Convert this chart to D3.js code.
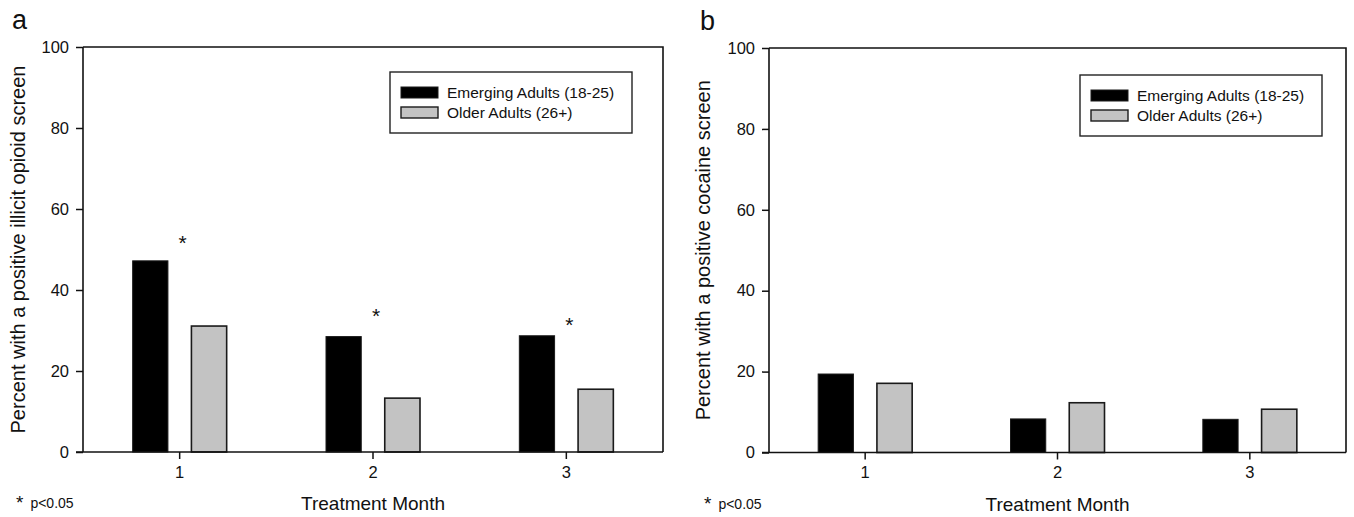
<!DOCTYPE html>
<html>
<head>
<meta charset="utf-8">
<script src="https://cdn.jsdelivr.net/npm/d3@7"></script>
<style>
  body { margin: 0; background: #fff; }
  svg text { font-family: "Liberation Sans", Arial, sans-serif; fill: #111; }
</style>
</head>
<body>
<svg id="chart" width="1354" height="517"></svg>
<script>
// DATA
var months = ['1', '2', '3'];
var groups = ['Emerging Adults (18-25)', 'Older Adults (26+)'];
var yTicks = [0, 20, 40, 60, 80, 100];

var opioidEmerging = [47.2, 28.5, 28.7];
var opioidOlder = [31.1, 13.3, 15.5];
var opioidStars = [52.3, 34.2, 32.2];   // height of the * marks

var cocaineEmerging = [19.4, 8.3, 8.2];
var cocaineOlder = [17.1, 12.3, 10.7];
var cocaineStars = [];

var fills = ['#000000', '#c3c3c3'];

var svg = d3.select('#chart');

function drawPanel(p) {
	var g = svg.append('g')
		.attr('transform', 'translate(' + p.left + ',' + p.top + ')');

	// SCALE
	var xScale = d3.scaleBand().domain(months).range([0, p.width]);
	var xGroup = d3.scaleBand().domain(groups).range([-47, 47]).paddingInner(0.4);
	var yScale = d3.scaleLinear().domain([0, 100]).range([p.height, 0]);

	// frame (top + right)
	g.append('path')
		.attr('d', 'M0,0H' + p.width + 'V' + p.height)
		.attr('fill', 'none')
		.attr('stroke', '#111')
		.attr('stroke-width', 1.6);

	// bars
	var rows = months.map(function(m, i) {
		return { month: m, values: [p.emerging[i], p.older[i]] };
	});
	var monthG = g.selectAll('.month')
		.data(rows)
		.enter().append('g')
		.attr('class', 'month')
		.attr('transform', function(d) { return 'translate(' + (xScale(d.month) + xScale.bandwidth() / 2) + ',0)'; });

	monthG.selectAll('rect')
		.data(function(d) { return d.values.map(function(v, j) { return { key: groups[j], value: v, j: j }; }); })
		.enter().append('rect')
		.attr('x', function(d) { return xGroup(d.key); })
		.attr('width', xGroup.bandwidth())
		.attr('y', function(d) { return yScale(d.value); })
		.attr('height', function(d) { return p.height - yScale(d.value); })
		.attr('fill', function(d) { return fills[d.j]; })
		.attr('stroke', '#1a1a1a')
		.attr('stroke-width', function(d) { return d.j == 0 ? 1 : 1.6; });

	// significance stars
	g.selectAll('.star')
		.data(p.stars)
		.enter().append('text')
		.attr('class', 'star')
		.attr('x', function(d, i) { return xScale(months[i]) + xScale.bandwidth() / 2 + 3; })
		.attr('y', function(d) { return yScale(d) + 10; })
		.attr('text-anchor', 'middle')
		.style('font-size', '21px')
		.text('*');

	// AXIS
	var yAxis = d3.axisLeft(yScale).tickValues(yTicks).tickSize(7).tickPadding(7);
	var yG = g.append('g').call(yAxis);
	var xAxis = d3.axisBottom(xScale).tickSize(7).tickPadding(7);
	var xG = g.append('g').attr('transform', 'translate(0,' + p.height + ')').call(xAxis);

	[yG, xG].forEach(function(a) {
		a.select('.domain').remove();
		a.selectAll('line').attr('stroke', '#111').attr('stroke-width', 1.5);
		a.selectAll('text').style('font-size', '16.5px').attr('fill', '#111');
	});
	// axis lines drawn again so they run into the 0 and 100 ticks
	g.append('line').attr('x1', 0).attr('x2', 0).attr('y1', 0).attr('y2', p.height)
		.attr('stroke', '#111').attr('stroke-width', 1.6);
	g.append('line').attr('x1', -7).attr('x2', p.width).attr('y1', p.height).attr('y2', p.height)
		.attr('stroke', '#111').attr('stroke-width', 1.6);
	xG.selectAll('line').attr('y1', 0);

	// axis titles
	g.append('text')
		.attr('transform', 'translate(' + p.yTitleX + ',' + (p.height / 2) + ') rotate(-90)')
		.attr('text-anchor', 'middle')
		.style('font-size', '20px')
		.text(p.yTitle);
	g.append('text')
		.attr('x', p.width / 2)
		.attr('y', p.height + 58)
		.attr('text-anchor', 'middle')
		.style('font-size', '19px')
		.text('Treatment Month');

	// panel letter
	g.append('text')
		.attr('x', p.letterX)
		.attr('y', -18)
		.style('font-size', '27px')
		.text(p.letter);

	// footnote
	var note = g.append('text')
		.attr('x', p.letterX + 4)
		.attr('y', p.height + 57);
	note.append('tspan').style('font-size', '19px').text('*');
	note.append('tspan').attr('dx', 7).attr('dy', -1).style('font-size', '14px').text('p<0.05');

	// LEGEND
	var lg = g.append('g')
		.attr('transform', 'translate(' + (p.width - p.legendRight - 242) + ',' + p.legendTop + ')');
	lg.append('rect')
		.attr('width', 242).attr('height', 61)
		.attr('fill', '#fff').attr('stroke', '#222').attr('stroke-width', 1.4);
	groups.forEach(function(name, j) {
		lg.append('rect')
			.attr('x', 11).attr('y', 15 + j * 20)
			.attr('width', 37).attr('height', 11)
			.attr('fill', fills[j]).attr('stroke', '#1a1a1a').attr('stroke-width', j == 0 ? 1 : 1.4);
		lg.append('text')
			.attr('x', 57).attr('y', 26 + j * 20)
			.style('font-size', '15.5px')
			.text(name);
	});
}

drawPanel({
	left: 83, top: 47, width: 580, height: 405,
	emerging: opioidEmerging, older: opioidOlder, stars: opioidStars,
	yTitle: 'Percent with a positive illicit opioid screen', yTitleX: -58,
	letter: 'a', letterX: -71, legendRight: 31, legendTop: 25
});

drawPanel({
	left: 769, top: 48, width: 577, height: 404.5,
	emerging: cocaineEmerging, older: cocaineOlder, stars: cocaineStars,
	yTitle: 'Percent with a positive cocaine screen', yTitleX: -59,
	letter: 'b', letterX: -69, legendRight: 24, legendTop: 27
});
</script>
</body>
</html>
